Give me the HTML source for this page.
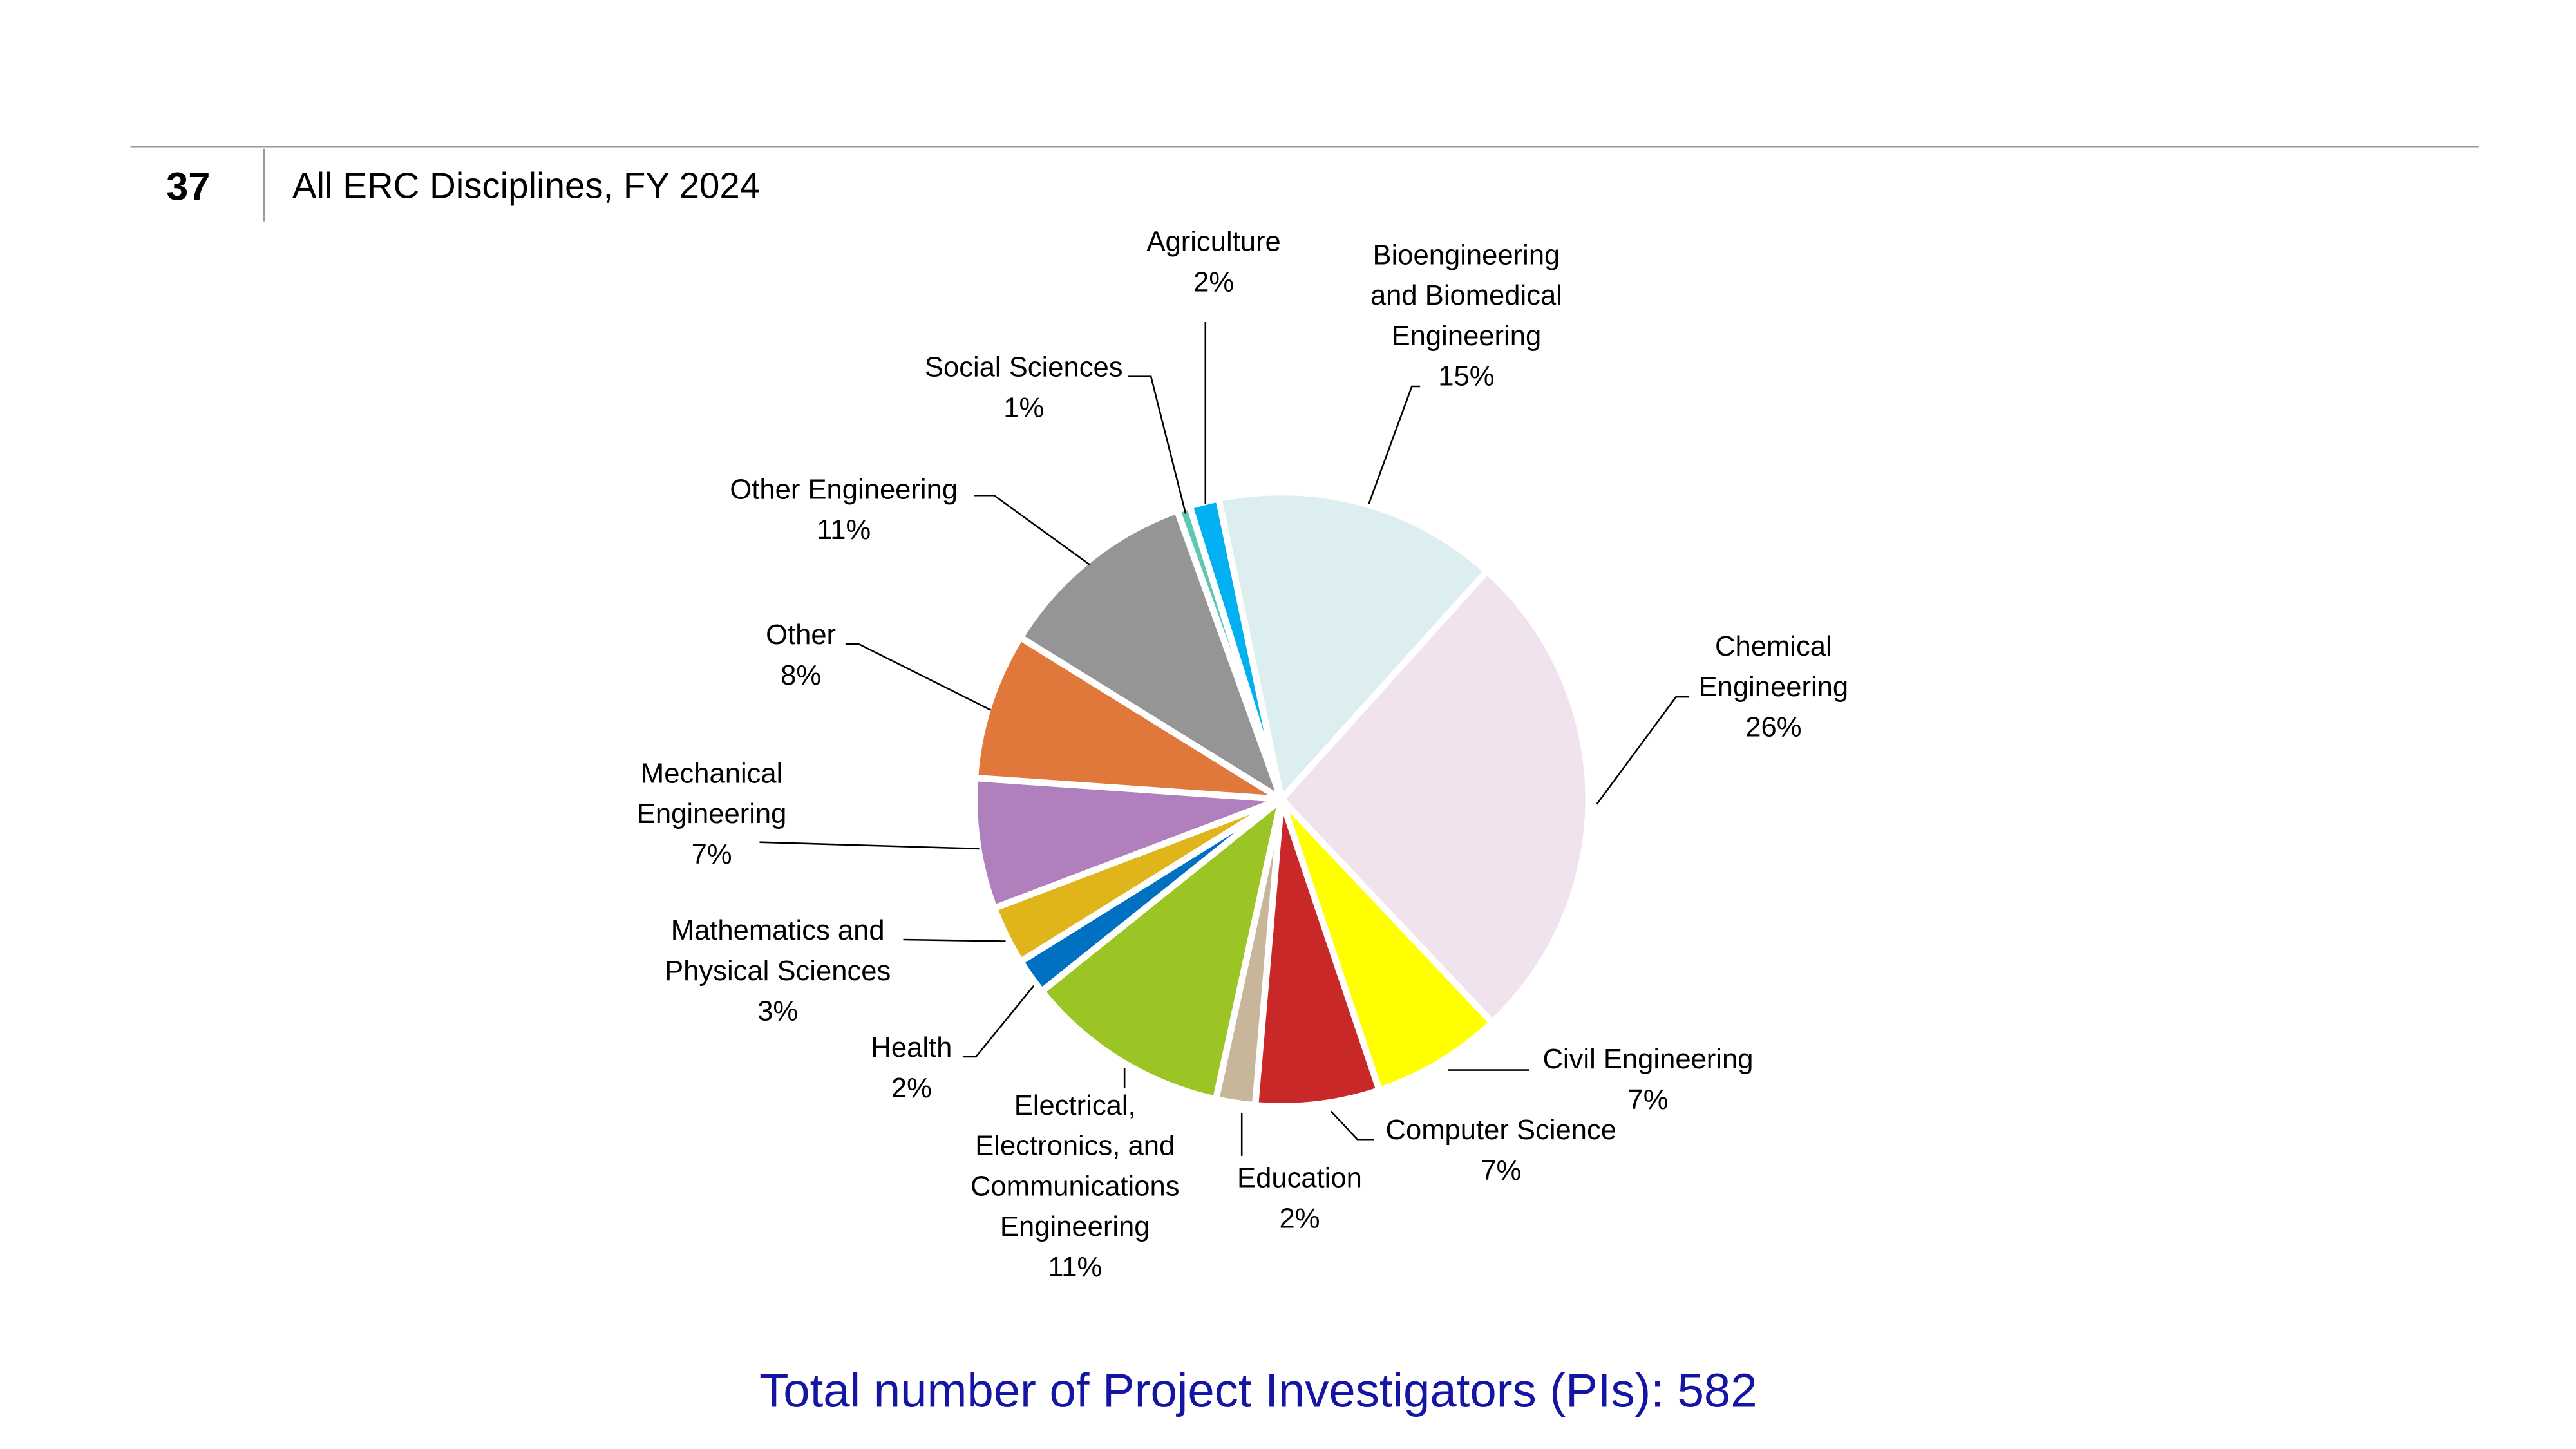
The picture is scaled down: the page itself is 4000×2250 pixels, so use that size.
<!DOCTYPE html>
<html><head><meta charset="utf-8"><style>
html,body{margin:0;padding:0;background:#fff;}
svg{display:block;}
text{font-family:"Liberation Sans",sans-serif;}
</style></head><body>
<svg id="chart" width="4000" height="2250" viewBox="0 0 1560 877.5" xmlns="http://www.w3.org/2000/svg">
<line x1="79" y1="89" x2="1501" y2="89" stroke="#999" stroke-width="1"/>
<line x1="160" y1="90" x2="160" y2="134" stroke="#999" stroke-width="1"/>
<text x="114" y="121" font-size="24" font-weight="bold" text-anchor="middle">37</text>
<text x="177" y="120" font-size="22">All ERC Disciplines, FY 2024</text>
<g id="slices"></g>
<g id="leaders" fill="none" stroke="#000" stroke-width="1"></g>
<g id="labels" font-size="17" text-anchor="middle"></g>
<text x="762" y="852" font-size="29" fill="#1515a3" text-anchor="middle">Total number of Project Investigators (PIs): 582</text>
</svg>
<script>
const categories = ["Bioengineering and Biomedical Engineering","Chemical Engineering","Civil Engineering","Computer Science","Education","Electrical, Electronics, and Communications Engineering","Health","Mathematics and Physical Sciences","Mechanical Engineering","Other","Other Engineering","Social Sciences","Agriculture"];
const counts = [87,153,40,38,12,63,11,18,40,45,62,4,9];
const percentLabels = ["15%","26%","7%","7%","2%","11%","2%","3%","7%","8%","11%","1%","2%"];
const colors = ["#ddeef1","#f0e3ee","#ffff00","#c92828","#c8b69b","#9bc524","#0070c0","#e0b51b","#af80bd","#e0783c","#959595","#5ec7b1","#00b0f0"];
const labelLines = [
 {lines:["Bioengineering","and Biomedical","Engineering","15%"],x:888,y:154,lead:[[860,234],[855,234],[829,305]]},
 {lines:["Chemical","Engineering","26%"],x:1074,y:391,lead:[[1023,422],[1015,422],[967,487]]},
 {lines:["Civil Engineering","7%"],x:998,y:641,lead:[[926,648],[877,648]]},
 {lines:["Computer Science","7%"],x:909,y:684,lead:[[832,690],[822,690],[806,673]]},
 {lines:["Education","2%"],x:787,y:713,lead:[[752,700],[752,674]]},
 {lines:["Electrical,","Electronics, and","Communications","Engineering","11%"],x:651,y:669,lead:[[681,659],[681,647]]},
 {lines:["Health","2%"],x:552,y:634,lead:[[583,640],[591,640],[626,597]]},
 {lines:["Mathematics and","Physical Sciences","3%"],x:471,y:563,lead:[[547,569],[609,570]]},
 {lines:["Mechanical","Engineering","7%"],x:431,y:468,lead:[[460,510],[593,514]]},
 {lines:["Other","8%"],x:485,y:384,lead:[[512,390],[520,390],[600,430]]},
 {lines:["Other Engineering","11%"],x:511,y:296,lead:[[590,300],[602,300],[660,342]]},
 {lines:["Social Sciences","1%"],x:620,y:222,lead:[[683,228],[697,228],[718,311]]},
 {lines:["Agriculture","2%"],x:735,y:146,lead:[[730,195],[730,305]]}
];
const NS="http://www.w3.org/2000/svg";
const cx=776, cy=484, r=186, startDeg=-11.8;
const total=counts.reduce((a,b)=>a+b,0);
function pt(deg,rad){const a=(deg-90)*Math.PI/180;return [cx+rad*Math.cos(a),cy+rad*Math.sin(a)];}
const gS=document.getElementById('slices'), gL=document.getElementById('leaders'), gT=document.getElementById('labels');
let ang=startDeg;
counts.forEach((v,i)=>{
  const sweep=v/total*360, a0=ang, a1=ang+sweep; ang=a1;
  const p0=pt(a0,r), p1=pt(a1,r);
  const p=document.createElementNS(NS,'path');
  p.setAttribute('d',`M${cx},${cy} L${p0[0]},${p0[1]} A${r},${r} 0 ${sweep>180?1:0} 1 ${p1[0]},${p1[1]} Z`);
  p.setAttribute('fill',colors[i]);p.setAttribute('stroke','#fff');p.setAttribute('stroke-width','4');p.setAttribute('stroke-linejoin','round');
  
  
  gS.appendChild(p);
  const L=labelLines[i];
  const pl=document.createElementNS(NS,'polyline');
  pl.setAttribute('points',L.lead.map(q=>q.join(',')).join(' '));
  
  
  gL.appendChild(pl);
  const t=document.createElementNS(NS,'text');
  
  
  t.setAttribute('x',L.x);t.setAttribute('y',L.y+6);
  const lines=L.lines.slice(0,-1).concat([percentLabels[i]]);
  lines.forEach((s,k)=>{const ts=document.createElementNS(NS,'tspan');ts.setAttribute('x',L.x);ts.setAttribute('dy',k?24.5:0);ts.textContent=s;t.appendChild(ts);});
  gT.appendChild(t);
});
</script>
</body></html>
